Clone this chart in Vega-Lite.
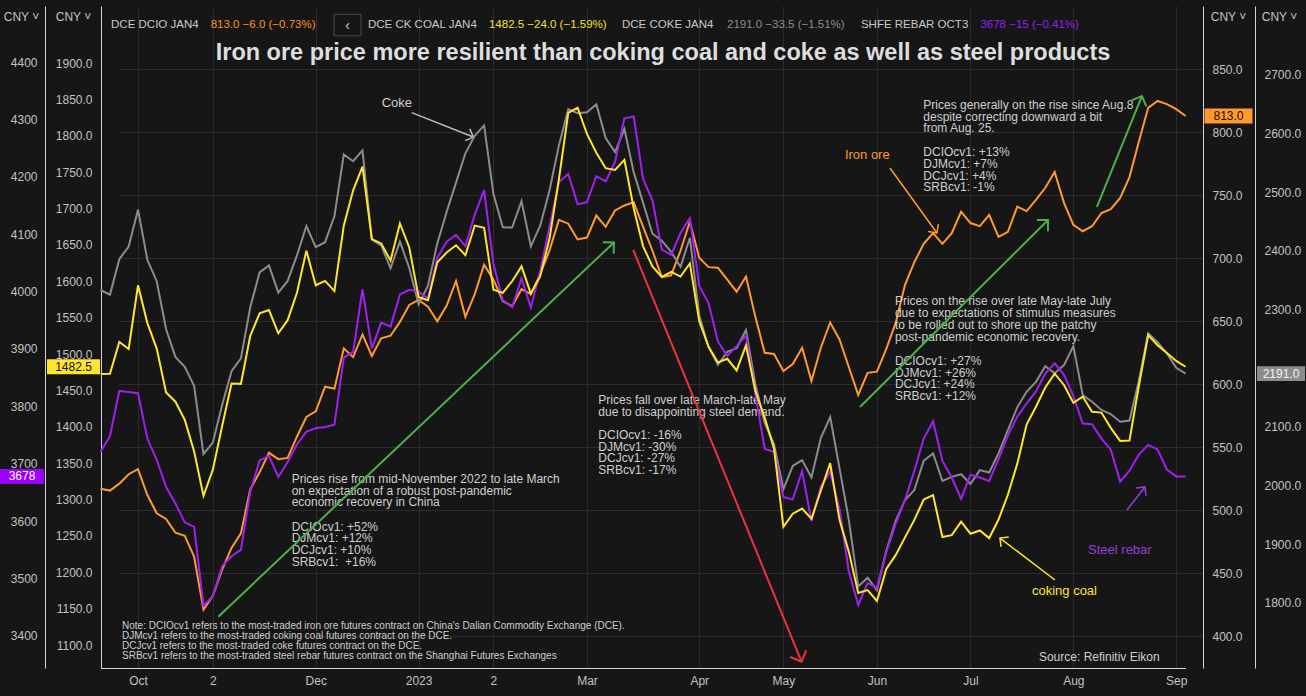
{
"$schema":"https://vega.github.io/schema/vega-lite/v6.json",
"width":1102,"height":662,
"autosize":{"type":"none"},
"padding":{"left":101,"top":6,"right":103,"bottom":28},
"background":"#161616",
"config":{
 "view":{"stroke":null},
 "font":"Liberation Sans",
 "point":{"opacity":1},
 "axis":{"labelColor":"#c2c2c2","labelFontSize":12,"labelFont":"Liberation Sans","domainColor":"#d4d4d4","domainWidth":1,"tickSize":0,"gridColor":"#2c2c2c","gridWidth":1,"titleColor":"#c2c2c2","titleFontSize":12,"titleFontWeight":"normal","titleFont":"Liberation Sans","labelFlush":false,"labelOverlap":false}
},
"datasets":{"prices":[
{"date":"2022-09-21","ore":517,"coal":1472.5,"coke":2333.5,"rebar":3721},
{"date":"2022-09-23","ore":515.5,"coal":1473,"coke":2325.5,"rebar":3748},
{"date":"2022-09-27","ore":521,"coal":1516.5,"coke":2386,"rebar":3827},
{"date":"2022-09-29","ore":528.5,"coal":1507,"coke":2407.5,"rebar":3825},
{"date":"2022-10-10","ore":532.5,"coal":1594.5,"coke":2470.5,"rebar":3823},
{"date":"2022-10-12","ore":512,"coal":1542.5,"coke":2385,"rebar":3744},
{"date":"2022-10-14","ore":497.5,"coal":1507.5,"coke":2348.5,"rebar":3707},
{"date":"2022-10-18","ore":493,"coal":1447,"coke":2266.5,"rebar":3660},
{"date":"2022-10-20","ore":482,"coal":1434.5,"coke":2219.5,"rebar":3631},
{"date":"2022-10-24","ore":479.5,"coal":1409.5,"coke":2202.5,"rebar":3598},
{"date":"2022-10-26","ore":463,"coal":1366,"coke":2170,"rebar":3590},
{"date":"2022-10-28","ore":421,"coal":1305,"coke":2054,"rebar":3453},
{"date":"2022-11-01","ore":432,"coal":1341,"coke":2073.5,"rebar":3469},
{"date":"2022-11-03","ore":453,"coal":1401.5,"coke":2138,"rebar":3522},
{"date":"2022-11-07","ore":470,"coal":1459.5,"coke":2195,"rebar":3539},
{"date":"2022-11-09","ore":481.5,"coal":1459,"coke":2217,"rebar":3550},
{"date":"2022-11-11","ore":516.5,"coal":1525,"coke":2304,"rebar":3651},
{"date":"2022-11-15","ore":530,"coal":1556,"coke":2363.5,"rebar":3706},
{"date":"2022-11-17","ore":545.5,"coal":1560.5,"coke":2375.5,"rebar":3714},
{"date":"2022-11-21","ore":540.5,"coal":1528.5,"coke":2329,"rebar":3677},
{"date":"2022-11-23","ore":541.5,"coal":1546.5,"coke":2349,"rebar":3703},
{"date":"2022-11-25","ore":558.5,"coal":1584.5,"coke":2393,"rebar":3734},
{"date":"2022-11-29","ore":574,"coal":1642,"coke":2442.5,"rebar":3756},
{"date":"2022-12-01","ore":578.5,"coal":1594.5,"coke":2406.5,"rebar":3762},
{"date":"2022-12-05","ore":598,"coal":1600.5,"coke":2415,"rebar":3764},
{"date":"2022-12-07","ore":596.5,"coal":1586.5,"coke":2459.5,"rebar":3768},
{"date":"2022-12-09","ore":628.5,"coal":1676.5,"coke":2564.5,"rebar":3885},
{"date":"2022-12-13","ore":621.5,"coal":1725,"coke":2553,"rebar":3895},
{"date":"2022-12-15","ore":639.5,"coal":1757.5,"coke":2571.5,"rebar":4004},
{"date":"2022-12-19","ore":622.5,"coal":1658,"coke":2419.5,"rebar":3901},
{"date":"2022-12-21","ore":636.5,"coal":1652,"coke":2409.5,"rebar":3946},
{"date":"2022-12-23","ore":638.5,"coal":1628.5,"coke":2370.5,"rebar":3939},
{"date":"2022-12-27","ore":649.5,"coal":1679.5,"coke":2416,"rebar":3995},
{"date":"2022-12-29","ore":663,"coal":1646.5,"coke":2371,"rebar":4003},
{"date":"2023-01-03","ore":667,"coal":1578,"coke":2309,"rebar":4000},
{"date":"2023-01-05","ore":661.5,"coal":1574,"coke":2341,"rebar":3988},
{"date":"2023-01-09","ore":650,"coal":1626,"coke":2413,"rebar":4059},
{"date":"2023-01-11","ore":662.5,"coal":1639.5,"coke":2467,"rebar":4087},
{"date":"2023-01-13","ore":682,"coal":1649.5,"coke":2516.5,"rebar":4099},
{"date":"2023-01-17","ore":653.5,"coal":1636,"coke":2566.5,"rebar":4079},
{"date":"2023-01-19","ore":671.5,"coal":1676.5,"coke":2596.5,"rebar":4134},
{"date":"2023-01-30","ore":695,"coal":1673.5,"coke":2614,"rebar":4177},
{"date":"2023-02-01","ore":683,"coal":1588.5,"coke":2497,"rebar":4048},
{"date":"2023-02-03","ore":666,"coal":1584,"coke":2440.5,"rebar":3985},
{"date":"2023-02-07","ore":662,"coal":1600,"coke":2440,"rebar":3973},
{"date":"2023-02-09","ore":675.5,"coal":1620.5,"coke":2485,"rebar":4023},
{"date":"2023-02-13","ore":671.5,"coal":1583,"coke":2408,"rebar":3972},
{"date":"2023-02-15","ore":687.5,"coal":1607,"coke":2443,"rebar":4036},
{"date":"2023-02-17","ore":706.5,"coal":1659,"coke":2503.5,"rebar":4114},
{"date":"2023-02-21","ore":730.5,"coal":1740.5,"coke":2580,"rebar":4191},
{"date":"2023-02-23","ore":727.5,"coal":1831.5,"coke":2642,"rebar":4205},
{"date":"2023-02-27","ore":715,"coal":1838.5,"coke":2635,"rebar":4152},
{"date":"2023-03-01","ore":716.5,"coal":1802.5,"coke":2636.5,"rebar":4156},
{"date":"2023-03-03","ore":734,"coal":1776.5,"coke":2650,"rebar":4201},
{"date":"2023-03-07","ore":725,"coal":1755.5,"coke":2592.5,"rebar":4192},
{"date":"2023-03-09","ore":738,"coal":1753,"coke":2568.5,"rebar":4226},
{"date":"2023-03-13","ore":742,"coal":1767,"coke":2608,"rebar":4302},
{"date":"2023-03-15","ore":744.5,"coal":1700,"coke":2534,"rebar":4305},
{"date":"2023-03-17","ore":725,"coal":1648,"coke":2482,"rebar":4196},
{"date":"2023-03-21","ore":706,"coal":1620.5,"coke":2429.5,"rebar":4159},
{"date":"2023-03-23","ore":685,"coal":1606,"coke":2417.5,"rebar":4073},
{"date":"2023-03-27","ore":686.5,"coal":1613,"coke":2398.5,"rebar":4064},
{"date":"2023-03-29","ore":706,"coal":1606.5,"coke":2373,"rebar":4102},
{"date":"2023-03-31","ore":729,"coal":1624.5,"coke":2422.5,"rebar":4128},
{"date":"2023-04-04","ore":700.5,"coal":1545.5,"coke":2290.5,"rebar":4010},
{"date":"2023-04-07","ore":693,"coal":1510,"coke":2236,"rebar":3980},
{"date":"2023-04-11","ore":692.5,"coal":1488.5,"coke":2206,"rebar":3913},
{"date":"2023-04-13","ore":683,"coal":1493.5,"coke":2228,"rebar":3888},
{"date":"2023-04-17","ore":673.5,"coal":1477.5,"coke":2234.5,"rebar":3905},
{"date":"2023-04-19","ore":685.5,"coal":1512,"coke":2265,"rebar":3923},
{"date":"2023-04-21","ore":653.5,"coal":1449.5,"coke":2173.5,"rebar":3822},
{"date":"2023-04-25","ore":625,"coal":1412.5,"coke":2106.5,"rebar":3726},
{"date":"2023-04-27","ore":624,"coal":1370,"coke":2071,"rebar":3721},
{"date":"2023-05-04","ore":610.5,"coal":1262.5,"coke":1994,"rebar":3642},
{"date":"2023-05-08","ore":616,"coal":1280.5,"coke":2033.5,"rebar":3638},
{"date":"2023-05-10","ore":629,"coal":1287.5,"coke":2043.5,"rebar":3687},
{"date":"2023-05-12","ore":602.5,"coal":1273.5,"coke":2014,"rebar":3600},
{"date":"2023-05-16","ore":629,"coal":1312,"coke":2081,"rebar":3660},
{"date":"2023-05-18","ore":649,"coal":1350,"coke":2117,"rebar":3686},
{"date":"2023-05-22","ore":635.5,"coal":1272,"coke":2030,"rebar":3621},
{"date":"2023-05-24","ore":613.5,"coal":1228,"coke":1941,"rebar":3512},
{"date":"2023-05-26","ore":591.5,"coal":1171.5,"coke":1828,"rebar":3454},
{"date":"2023-05-30","ore":609,"coal":1175.5,"coke":1843,"rebar":3492},
{"date":"2023-06-01","ore":610,"coal":1160.5,"coke":1822,"rebar":3484},
{"date":"2023-06-05","ore":628,"coal":1204.5,"coke":1889,"rebar":3546},
{"date":"2023-06-07","ore":648.5,"coal":1223.5,"coke":1939.5,"rebar":3595},
{"date":"2023-06-09","ore":679,"coal":1248,"coke":1975.5,"rebar":3637},
{"date":"2023-06-13","ore":697,"coal":1272,"coke":1992.5,"rebar":3688},
{"date":"2023-06-15","ore":711.5,"coal":1300,"coke":2042.5,"rebar":3744},
{"date":"2023-06-19","ore":720,"coal":1306,"coke":2055,"rebar":3774},
{"date":"2023-06-21","ore":711.5,"coal":1248.5,"coke":2008,"rebar":3705},
{"date":"2023-06-27","ore":720,"coal":1251,"coke":2015,"rebar":3676},
{"date":"2023-06-29","ore":737,"coal":1269.5,"coke":2019.5,"rebar":3639},
{"date":"2023-07-03","ore":728,"coal":1253,"coke":2003,"rebar":3681},
{"date":"2023-07-05","ore":725.5,"coal":1257.5,"coke":2026.5,"rebar":3676},
{"date":"2023-07-07","ore":734.5,"coal":1247,"coke":2022.5,"rebar":3670},
{"date":"2023-07-11","ore":717,"coal":1272.5,"coke":2055,"rebar":3708},
{"date":"2023-07-13","ore":721,"coal":1306.5,"coke":2094.5,"rebar":3749},
{"date":"2023-07-17","ore":741,"coal":1349,"coke":2133.5,"rebar":3782},
{"date":"2023-07-19","ore":737.5,"coal":1403,"coke":2160,"rebar":3805},
{"date":"2023-07-21","ore":746.5,"coal":1427.5,"coke":2177,"rebar":3826},
{"date":"2023-07-25","ore":756,"coal":1454,"coke":2203.5,"rebar":3857},
{"date":"2023-07-27","ore":768.5,"coal":1473,"coke":2191.5,"rebar":3875},
{"date":"2023-07-31","ore":744,"coal":1457.5,"coke":2205.5,"rebar":3855},
{"date":"2023-08-02","ore":726.5,"coal":1433,"coke":2238,"rebar":3818},
{"date":"2023-08-04","ore":721.5,"coal":1441.5,"coke":2154.5,"rebar":3770},
{"date":"2023-08-08","ore":725.5,"coal":1420.5,"coke":2143,"rebar":3769},
{"date":"2023-08-10","ore":736,"coal":1419.5,"coke":2129,"rebar":3744},
{"date":"2023-08-14","ore":739,"coal":1398.5,"coke":2122,"rebar":3725},
{"date":"2023-08-16","ore":748,"coal":1380.5,"coke":2109,"rebar":3669},
{"date":"2023-08-18","ore":764.5,"coal":1381,"coke":2111,"rebar":3688},
{"date":"2023-08-22","ore":792.5,"coal":1456,"coke":2179,"rebar":3716},
{"date":"2023-08-24","ore":819.5,"coal":1526,"coke":2260,"rebar":3733},
{"date":"2023-08-28","ore":825,"coal":1512,"coke":2244.5,"rebar":3725},
{"date":"2023-08-30","ore":822.5,"coal":1501.5,"coke":2225.5,"rebar":3690},
{"date":"2023-09-01","ore":818.5,"coal":1490.5,"coke":2201,"rebar":3678},
{"date":"2023-09-05","ore":813,"coal":1482.5,"coke":2191,"rebar":3678}
]},
"data":{"name":"prices"},
"encoding":{"x":{"field":"date","type":"ordinal","scale":{"type":"point","range":[-0.4,1084.6],"padding":0},"axis":{"values":["2022-10-10","2022-11-01","2022-12-01","2023-01-03","2023-02-01","2023-03-01","2023-04-04","2023-05-04","2023-06-01","2023-07-03","2023-08-02","2023-09-01"],"labelExpr":"['Oct','2','Dec','2023','2','Mar','Apr','May','Jun','Jul','Aug','Sep'][indexof(['2022-10-10','2022-11-01','2022-12-01','2023-01-03','2023-02-01','2023-03-01','2023-04-04','2023-05-04','2023-06-01','2023-07-03','2023-08-02','2023-09-01'], datum.value)]","grid":true,"title":null,"labelAngle":0,"labelPadding":7,"labelBaseline":"top"}}},
"layer":[
{"layer":[
 {"mark":{"type":"line","color":"#ff9a2e","strokeWidth":2},"encoding":{"y":{"field":"ore","type":"quantitative","scale":{"domain":[374.6,900.4],"nice":false,"zero":false},"axis":{"orient":"right","offset":0,"values":[400,425,450,475,500,525,550,575,600,625,650,675,700,725,750,775,800,825,850,875],"format":".1f","grid":true,"labelPadding":9,"title":"CNY ˅","titleAngle":0,"titleX":25,"titleY":10,"titleAlign":"center","titleBaseline":"middle"}}}},
 {"transform":[{"filter":"datum.date == '2023-09-05'"}],"mark":{"type":"point","shape":"M-1,-0.31H1V0.31H-1Z","size":2304,"filled":true,"color":"#ff9a2e","xOffset":42.9},"encoding":{"y":{"field":"ore","type":"quantitative"}}},
 {"transform":[{"filter":"datum.date == '2023-09-05'"}],"mark":{"type":"text","color":"#111111","fontSize":12,"align":"center","baseline":"middle","dx":42.9},"encoding":{"y":{"field":"ore","type":"quantitative"},"text":{"field":"ore","type":"quantitative","format":".1f"}}},
 {"data":{"values":[{}]},"mark":{"type":"text","text":"Iron ore price more resilient than coking coal and coke as well as steel products","align":"center","baseline":"middle","fontSize":23.5,"fontWeight":"bold","color":"#dedede","dx":1.2},"encoding":{"x":{"datum":"2023-03-23","type":"ordinal"},"y":{"datum":863.1,"type":"quantitative"}}},
 {"data":{"values":[{}]},"mark":{"type":"text","text":"DCE DCIO JAN4","align":"left","baseline":"middle","fontSize":11.5,"color":"#c9c9c9","dx":1.1},"encoding":{"x":{"datum":"2022-09-23","type":"ordinal"},"y":{"datum":885.3,"type":"quantitative"}}},
 {"data":{"values":[{}]},"mark":{"type":"text","text":"813.0 −6.0 (−0.73%)","align":"left","baseline":"middle","fontSize":11.5,"color":"#f7931e","dx":-2.2},"encoding":{"x":{"datum":"2022-11-01","type":"ordinal"},"y":{"datum":885.3,"type":"quantitative"}}},
 {"data":{"values":[{}]},"mark":{"type":"point","shape":"M-1,-0.8H1V0.8H-1Z","size":729,"filled":false,"color":"#4a4a4a","strokeWidth":1,"xOffset":3.7},"encoding":{"x":{"datum":"2022-12-09","type":"ordinal"},"y":{"datum":885.3,"type":"quantitative"}}},
 {"data":{"values":[{}]},"mark":{"type":"text","text":"‹","align":"center","baseline":"middle","fontSize":15,"color":"#c9c9c9","dx":3.7},"encoding":{"x":{"datum":"2022-12-09","type":"ordinal"},"y":{"datum":885.3,"type":"quantitative"}}},
 {"data":{"values":[{}]},"mark":{"type":"text","text":"DCE CK COAL JAN4","align":"left","baseline":"middle","fontSize":11.5,"color":"#c9c9c9","dx":-3.9},"encoding":{"x":{"datum":"2022-12-19","type":"ordinal"},"y":{"datum":885.3,"type":"quantitative"}}},
 {"data":{"values":[{}]},"mark":{"type":"text","text":"1482.5 −24.0 (−1.59%)","align":"left","baseline":"middle","fontSize":11.5,"color":"#f5e12a","dx":-4.5},"encoding":{"x":{"datum":"2023-02-01","type":"ordinal"},"y":{"datum":885.3,"type":"quantitative"}}},
 {"data":{"values":[{}]},"mark":{"type":"text","text":"DCE COKE JAN4","align":"left","baseline":"middle","fontSize":11.5,"color":"#c9c9c9","dx":-2.4},"encoding":{"x":{"datum":"2023-03-13","type":"ordinal"},"y":{"datum":885.3,"type":"quantitative"}}},
 {"data":{"values":[{}]},"mark":{"type":"text","text":"2191.0 −33.5 (−1.51%)","align":"left","baseline":"middle","fontSize":11.5,"color":"#8d8d8d","dx":-0.3},"encoding":{"x":{"datum":"2023-04-13","type":"ordinal"},"y":{"datum":885.3,"type":"quantitative"}}},
 {"data":{"values":[{}]},"mark":{"type":"text","text":"SHFE REBAR OCT3","align":"left","baseline":"middle","fontSize":11.5,"color":"#c9c9c9","dx":2.7},"encoding":{"x":{"datum":"2023-05-26","type":"ordinal"},"y":{"datum":885.3,"type":"quantitative"}}},
 {"data":{"values":[{}]},"mark":{"type":"text","text":"3678 −15 (−0.41%)","align":"left","baseline":"middle","fontSize":11.5,"color":"#9b1dfb","dx":0.6},"encoding":{"x":{"datum":"2023-07-05","type":"ordinal"},"y":{"datum":885.3,"type":"quantitative"}}},
 {"data":{"values":[{}]},"mark":{"type":"text","text":["Prices generally on the rise since Aug.8","despite correcting downward a bit","from Aug. 25."],"align":"left","baseline":"top","fontSize":12,"lineHeight":11.75,"color":"#cfcfcf","dx":-0.4},"encoding":{"x":{"datum":"2023-06-15","type":"ordinal"},"y":{"datum":825.9,"type":"quantitative"}}},
 {"data":{"values":[{}]},"mark":{"type":"text","text":["DCIOcv1: +13%","DJMcv1: +7%","DCJcv1: +4%","SRBcv1: -1%"],"align":"left","baseline":"top","fontSize":12,"lineHeight":11.75,"color":"#cfcfcf","dx":-0.4},"encoding":{"x":{"datum":"2023-06-15","type":"ordinal"},"y":{"datum":788.3,"type":"quantitative"}}},
 {"data":{"values":[{}]},"mark":{"type":"text","text":["Prices on the rise over late May-late July","due to expectations of stimulus measures","to be rolled out to shore up the patchy","post-pandemic economic recovery."],"align":"left","baseline":"top","fontSize":12,"lineHeight":11.75,"color":"#cfcfcf","dx":-0.7},"encoding":{"x":{"datum":"2023-06-07","type":"ordinal"},"y":{"datum":669.7,"type":"quantitative"}}},
 {"data":{"values":[{}]},"mark":{"type":"text","text":["DCIOcv1: +27%","DJMcv1: +26%","DCJcv1: +24%","SRBcv1: +12%"],"align":"left","baseline":"top","fontSize":12,"lineHeight":11.75,"color":"#cfcfcf","dx":-0.7},"encoding":{"x":{"datum":"2023-06-07","type":"ordinal"},"y":{"datum":622.6,"type":"quantitative"}}},
 {"data":{"values":[{}]},"mark":{"type":"text","text":["Prices fall over late March-late May","due to disappointing steel demand."],"align":"left","baseline":"top","fontSize":12,"lineHeight":11.75,"color":"#cfcfcf","dx":2},"encoding":{"x":{"datum":"2023-03-03","type":"ordinal"},"y":{"datum":591.6,"type":"quantitative"}}},
 {"data":{"values":[{}]},"mark":{"type":"text","text":["DCIOcv1: -16%","DJMcv1: -30%","DCJcv1: -27%","SRBcv1: -17%"],"align":"left","baseline":"top","fontSize":12,"lineHeight":11.75,"color":"#cfcfcf","dx":2},"encoding":{"x":{"datum":"2023-03-03","type":"ordinal"},"y":{"datum":563.8,"type":"quantitative"}}},
 {"data":{"values":[{}]},"mark":{"type":"text","text":["Prices rise from mid-November 2022 to late March","on expectation of a robust post-pandemic","economic recovery in China"],"align":"left","baseline":"top","fontSize":12,"lineHeight":11.75,"color":"#cfcfcf","dx":4},"encoding":{"x":{"datum":"2022-11-23","type":"ordinal"},"y":{"datum":528.8,"type":"quantitative"}}},
 {"data":{"values":[{}]},"mark":{"type":"text","text":["DCIOcv1: +52%","DJMcv1: +12%","DCJcv1: +10%","SRBcv1:\u00a0 +16%"],"align":"left","baseline":"top","fontSize":12,"lineHeight":11.75,"color":"#cfcfcf","dx":4},"encoding":{"x":{"datum":"2022-11-23","type":"ordinal"},"y":{"datum":490.9,"type":"quantitative"}}},
 {"data":{"values":[{}]},"mark":{"type":"text","text":["Note: DCIOcv1 refers to the most-traded iron ore futures contract on China's Dalian Commodity Exchange (DCE).","DJMcv1 refers to the most-traded coking coal futures contract on the DCE.","DCJcv1 refers to the most-traded coke futures contract on the DCE.","SRBcv1 refers to the most-traded steel rebar futures contract on the Shanghai Futures Exchanges"],"align":"left","baseline":"top","fontSize":10,"lineHeight":10,"color":"#cfcfcf","dx":2.7},"encoding":{"x":{"datum":"2022-09-27","type":"ordinal"},"y":{"datum":412.2,"type":"quantitative"}}},
 {"data":{"values":[{}]},"mark":{"type":"text","text":"Source: Refinitiv Eikon","align":"left","baseline":"middle","fontSize":12,"color":"#cfcfcf","dx":3},"encoding":{"x":{"datum":"2023-07-21","type":"ordinal"},"y":{"datum":383.1,"type":"quantitative"}}},
 {"data":{"values":[{}]},"mark":{"type":"text","text":"Iron ore","align":"left","baseline":"middle","fontSize":13,"color":"#ff9a2e","dx":-4},"encoding":{"x":{"datum":"2023-05-24","type":"ordinal"},"y":{"datum":782.1,"type":"quantitative"}}},
 {"data":{"values":[{}]},"mark":{"type":"text","text":"coking coal","align":"left","baseline":"middle","fontSize":13,"color":"#ffe52c","dx":-4},"encoding":{"x":{"datum":"2023-07-21","type":"ordinal"},"y":{"datum":435.7,"type":"quantitative"}}},
 {"data":{"values":[{}]},"mark":{"type":"text","text":"Steel rebar","align":"left","baseline":"middle","fontSize":13,"color":"#9c3bd6","dx":-4},"encoding":{"x":{"datum":"2023-08-08","type":"ordinal"},"y":{"datum":468.3,"type":"quantitative"}}},
 {"data":{"values":[{}]},"mark":{"type":"text","text":"Coke","align":"left","baseline":"middle","fontSize":13,"color":"#d0d0d0","dx":0.5},"encoding":{"x":{"datum":"2022-12-21","type":"ordinal"},"y":{"datum":823.1,"type":"quantitative"}}},
 {"data":{"values":[{}]},"mark":{"type":"rule","color":"#bdbdbd","strokeWidth":1.5,"xOffset":2.4,"x2Offset":-1.4},"encoding":{"x":{"datum":"2022-12-29","type":"ordinal"},"x2":{"datum":"2023-01-19"},"y":{"datum":815.7,"type":"quantitative"},"y2":{"datum":796.3}}},
 {"data":{"values":[{}]},"mark":{"type":"point","shape":"M-1,-1L0,0L-1,1","filled":false,"size":160,"angle":21.6,"color":"#bdbdbd","strokeWidth":1.5,"xOffset":-1.4},"encoding":{"x":{"datum":"2023-01-19","type":"ordinal"},"y":{"datum":796.3,"type":"quantitative"}}},
 {"data":{"values":[{}]},"mark":{"type":"rule","color":"#ff9a2e","strokeWidth":1.5,"xOffset":3.7,"x2Offset":3.9},"encoding":{"x":{"datum":"2023-06-05","type":"ordinal"},"x2":{"datum":"2023-06-19"},"y":{"datum":771.7,"type":"quantitative"},"y2":{"datum":720.1}}},
 {"data":{"values":[{}]},"mark":{"type":"point","shape":"M-1,-1L0,0L-1,1","filled":false,"size":160,"angle":54,"color":"#ff9a2e","strokeWidth":1.5,"xOffset":3.9},"encoding":{"x":{"datum":"2023-06-19","type":"ordinal"},"y":{"datum":720.1,"type":"quantitative"}}},
 {"data":{"values":[{}]},"mark":{"type":"rule","color":"#ffe52c","strokeWidth":1.5,"xOffset":0.3,"x2Offset":1.4},"encoding":{"x":{"datum":"2023-07-27","type":"ordinal"},"x2":{"datum":"2023-07-11"},"y":{"datum":444.5,"type":"quantitative"},"y2":{"datum":477.8}}},
 {"data":{"values":[{}]},"mark":{"type":"point","shape":"M-1,-1L0,0L-1,1","filled":false,"size":160,"angle":217.4,"color":"#ffe52c","strokeWidth":1.5,"xOffset":1.4},"encoding":{"x":{"datum":"2023-07-11","type":"ordinal"},"y":{"datum":477.8,"type":"quantitative"}}},
 {"data":{"values":[{}]},"mark":{"type":"rule","color":"#9c3bd6","strokeWidth":1.5,"xOffset":-2.5,"x2Offset":-3.2},"encoding":{"x":{"datum":"2023-08-18","type":"ordinal"},"x2":{"datum":"2023-08-24"},"y":{"datum":500.1,"type":"quantitative"},"y2":{"datum":518.4}}},
 {"data":{"values":[{}]},"mark":{"type":"point","shape":"M-1,-1L0,0L-1,1","filled":false,"size":160,"angle":-52,"color":"#9c3bd6","strokeWidth":1.5,"xOffset":-3.2},"encoding":{"x":{"datum":"2023-08-24","type":"ordinal"},"y":{"datum":518.4,"type":"quantitative"}}},
 {"data":{"values":[{}]},"mark":{"type":"rule","color":"#4caf50","strokeWidth":2,"xOffset":-3.9,"x2Offset":-1.1},"encoding":{"x":{"datum":"2022-11-03","type":"ordinal"},"x2":{"datum":"2023-03-09"},"y":{"datum":415.3,"type":"quantitative"},"y2":{"datum":712.6}}},
 {"data":{"values":[{}]},"mark":{"type":"point","shape":"M-1,-1L0,0L-1,1","filled":false,"size":250,"angle":-43.4,"color":"#4caf50","strokeWidth":2,"xOffset":-1.1},"encoding":{"x":{"datum":"2023-03-09","type":"ordinal"},"y":{"datum":712.6,"type":"quantitative"}}},
 {"data":{"values":[{}]},"mark":{"type":"rule","color":"#4caf50","strokeWidth":2,"xOffset":1.7,"x2Offset":2.7},"encoding":{"x":{"datum":"2023-05-26","type":"ordinal"},"x2":{"datum":"2023-07-25"},"y":{"datum":581.9,"type":"quantitative"},"y2":{"datum":730.4}}},
 {"data":{"values":[{}]},"mark":{"type":"point","shape":"M-1,-1L0,0L-1,1","filled":false,"size":250,"angle":-44.8,"color":"#4caf50","strokeWidth":2,"xOffset":2.7},"encoding":{"x":{"datum":"2023-07-25","type":"ordinal"},"y":{"datum":730.4,"type":"quantitative"}}},
 {"data":{"values":[{}]},"mark":{"type":"rule","color":"#4caf50","strokeWidth":2,"xOffset":-4.5,"x2Offset":3.1},"encoding":{"x":{"datum":"2023-08-10","type":"ordinal"},"x2":{"datum":"2023-08-22"},"y":{"datum":740.8,"type":"quantitative"},"y2":{"datum":828.9}}},
 {"data":{"values":[{}]},"mark":{"type":"point","shape":"M-1,-1L0,0L-1,1","filled":false,"size":250,"angle":-67.9,"color":"#4caf50","strokeWidth":2,"xOffset":3.1},"encoding":{"x":{"datum":"2023-08-22","type":"ordinal"},"y":{"datum":828.9,"type":"quantitative"}}},
 {"data":{"values":[{}]},"mark":{"type":"rule","color":"#e8343a","strokeWidth":2,"xOffset":-0.5,"x2Offset":-0.6},"encoding":{"x":{"datum":"2023-03-15","type":"ordinal"},"x2":{"datum":"2023-05-10"},"y":{"datum":706.6,"type":"quantitative"},"y2":{"datum":379.6}}},
 {"data":{"values":[{}]},"mark":{"type":"point","shape":"M-1,-1L0,0L-1,1","filled":false,"size":300,"angle":67.8,"color":"#e8343a","strokeWidth":2,"xOffset":-0.6},"encoding":{"x":{"datum":"2023-05-10","type":"ordinal"},"y":{"datum":379.6,"type":"quantitative"}}}
]},
{"layer":[
 {"mark":{"type":"line","color":"#8c8c8c","strokeWidth":2},"encoding":{"y":{"field":"coke","type":"quantitative","scale":{"domain":[1689.2,2817.6],"nice":false,"zero":false},"axis":{"orient":"right","offset":52,"values":[1800,1900,2000,2100,2300,2400,2500,2600,2700],"format":".1f","grid":false,"labelPadding":9,"title":"CNY ˅","titleAngle":0,"titleX":24,"titleY":10,"titleAlign":"center","titleBaseline":"middle"}}}},
 {"transform":[{"filter":"datum.date == '2023-09-05'"}],"mark":{"type":"point","shape":"M-1,-0.31H1V0.31H-1Z","size":2304,"filled":true,"color":"#8c8c8c","xOffset":95.4},"encoding":{"y":{"field":"coke","type":"quantitative"}}},
 {"transform":[{"filter":"datum.date == '2023-09-05'"}],"mark":{"type":"text","color":"#f2f2f2","fontSize":12,"align":"center","baseline":"middle","dx":95.4},"encoding":{"y":{"field":"coke","type":"quantitative"},"text":{"field":"coke","type":"quantitative","format":".1f"}}}
]},
{"layer":[
 {"mark":{"type":"line","color":"#a020f0","strokeWidth":2},"encoding":{"y":{"field":"rebar","type":"quantitative","scale":{"domain":[3344.2,4497.6],"nice":false,"zero":false},"axis":{"orient":"left","offset":56,"values":[3400,3500,3600,3700,3800,3900,4000,4100,4200,4300,4400],"format":"d","grid":false,"labelPadding":8,"title":"CNY ˅","titleAngle":0,"titleX":-24,"titleY":10,"titleAlign":"center","titleBaseline":"middle"}}}},
 {"transform":[{"filter":"datum.date == '2023-09-05'"}],"mark":{"type":"point","shape":"M-1,-0.34H1V0.34H-1Z","size":1936,"filled":true,"color":"#9b00ff","xOffset":-1163.6},"encoding":{"y":{"field":"rebar","type":"quantitative"}}},
 {"transform":[{"filter":"datum.date == '2023-09-05'"}],"mark":{"type":"text","color":"#ffffff","fontSize":12,"align":"center","baseline":"middle","dx":-1163.6},"encoding":{"y":{"field":"rebar","type":"quantitative"},"text":{"field":"rebar","type":"quantitative","format":"d"}}}
]},
{"layer":[
 {"mark":{"type":"line","color":"#ffe52c","strokeWidth":2},"encoding":{"y":{"field":"coal","type":"quantitative","scale":{"domain":[1068.4,1978.4],"nice":false,"zero":false},"axis":{"orient":"left","offset":0,"values":[1100,1150,1200,1250,1300,1350,1400,1450,1500,1550,1600,1650,1700,1750,1800,1850,1900],"format":".1f","grid":false,"labelPadding":9,"title":"CNY ˅","titleAngle":0,"titleX":-28,"titleY":10,"titleAlign":"center","titleBaseline":"middle"}}}},
 {"transform":[{"filter":"datum.date == '2023-09-05'"}],"mark":{"type":"point","shape":"M-1,-0.28H1V0.28H-1Z","size":2809,"filled":true,"color":"#ffe52c","xOffset":-1112.1},"encoding":{"y":{"field":"coal","type":"quantitative"}}},
 {"transform":[{"filter":"datum.date == '2023-09-05'"}],"mark":{"type":"text","color":"#111111","fontSize":12,"align":"center","baseline":"middle","dx":-1112.1},"encoding":{"y":{"field":"coal","type":"quantitative"},"text":{"field":"coal","type":"quantitative","format":".1f"}}}
]}
],
"resolve":{"scale":{"y":"independent"}}
}
